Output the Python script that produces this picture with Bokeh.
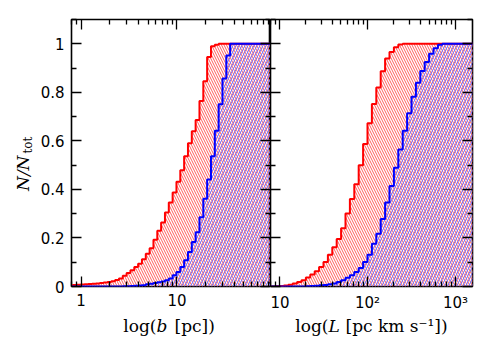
import math
from bokeh.plotting import figure
from bokeh.layouts import row, column
from bokeh.models import (LogAxis, LinearAxis, FixedTicker, CustomJSTickFormatter,
                          Range1d, Label)
from bokeh.embed import file_html
from bokeh.resources import INLINE

# ---------------- data ----------------
# left panel: bin left edges, log10(b / pc), width 0.04 dex
logb_edges = [-0.125, -0.085, -0.045, -0.005, 0.035, 0.075, 0.115, 0.155, 0.195, 0.235,
              0.275, 0.315, 0.355, 0.395, 0.435, 0.475, 0.515, 0.555, 0.595, 0.635,
              0.675, 0.715, 0.755, 0.795, 0.835, 0.875, 0.915, 0.955, 0.995, 1.035,
              1.075, 1.115, 1.155, 1.195, 1.235, 1.275, 1.315, 1.355, 1.395, 1.435,
              1.475, 1.515, 1.555, 1.595, 1.635, 1.675, 1.715, 1.755, 1.795, 1.835,
              1.875, 1.915, 1.955, 1.995]
b_red = [0.005, 0.006, 0.007, 0.008, 0.009, 0.010, 0.011, 0.012, 0.014, 0.016,
         0.019, 0.022, 0.027, 0.033, 0.044, 0.056, 0.067, 0.080, 0.094, 0.112,
         0.135, 0.158, 0.193, 0.230, 0.264, 0.305, 0.346, 0.387, 0.432, 0.479,
         0.537, 0.590, 0.640, 0.686, 0.764, 0.846, 0.945, 0.990, 0.996, 1.0,
         1.0, 1.0, 1.0, 1.0, 1.0, 1.0, 1.0, 1.0, 1.0, 1.0,
         1.0, 1.0, 1.0, 1.0]
b_blue = [0.0, 0.0, 0.0, 0.0, 0.0, 0.0, 0.0, 0.0, 0.0, 0.0,
          0.0, 0.0, 0.0, 0.0, 0.001, 0.001, 0.002, 0.003, 0.004, 0.005,
          0.009, 0.011, 0.014, 0.017, 0.021, 0.026, 0.033, 0.046, 0.060, 0.080,
          0.108, 0.142, 0.183, 0.223, 0.285, 0.362, 0.441, 0.537, 0.642, 0.751,
          0.857, 0.952, 1.0, 1.0, 1.0, 1.0, 1.0, 1.0, 1.0, 1.0,
          1.0, 1.0, 1.0, 1.0]

# right panel: bin left edges, log10(L / pc km s^-1), width 0.05 dex
logL_edges = [0.85, 0.90, 0.95, 1.00, 1.05, 1.10, 1.15, 1.20, 1.25, 1.30,
              1.35, 1.40, 1.45, 1.50, 1.55, 1.60, 1.65, 1.70, 1.75, 1.80,
              1.85, 1.90, 1.95, 2.00, 2.05, 2.10, 2.15, 2.20, 2.25, 2.30,
              2.35, 2.40, 2.45, 2.50, 2.55, 2.60, 2.65, 2.70, 2.75, 2.80,
              2.85, 2.90, 2.95, 3.00, 3.05, 3.10, 3.15, 3.20]
L_red = [0.0, 0.0, 0.001, 0.002, 0.004, 0.007, 0.012, 0.019, 0.026, 0.037,
         0.049, 0.063, 0.080, 0.101, 0.131, 0.162, 0.196, 0.240, 0.301, 0.360,
         0.421, 0.500, 0.587, 0.673, 0.752, 0.820, 0.887, 0.939, 0.966, 0.986,
         0.997, 1.0, 1.0, 1.0, 1.0, 1.0, 1.0, 1.0, 1.0, 1.0,
         1.0, 1.0, 1.0, 1.0, 1.0, 1.0, 1.0, 1.0]
L_blue = [0.0, 0.0, 0.0, 0.0, 0.0, 0.0, 0.0, 0.0, 0.0, 0.001,
          0.002, 0.003, 0.005, 0.006, 0.009, 0.012, 0.019, 0.026, 0.036, 0.046,
          0.060, 0.076, 0.101, 0.131, 0.176, 0.217, 0.278, 0.346, 0.414, 0.489,
          0.564, 0.642, 0.714, 0.782, 0.839, 0.888, 0.925, 0.959, 0.982, 0.996,
          1.0, 1.0, 1.0, 1.0, 1.0, 1.0, 1.0, 1.0]

y_major = [0, 0.2, 0.4, 0.6, 0.8, 1.0]
y_minor = [0.1, 0.3, 0.5, 0.7, 0.9, 1.1]
left_major = [1, 10, 100]
right_major = [10, 100, 1000]

# ---------------- styling helpers ----------------
RED = "#ff0000"
BLUE = "#0000ff"
TICK_FONT = "DejaVu Sans"
LABEL_FONT = "DejaVu Serif"

TOP, FRAME_H, BOTTOM = 19, 269, 26
PANEL_H = TOP + FRAME_H + BOTTOM          # 314
STRIP_H = 356 - PANEL_H                   # 42
YSTRIP_W = 37
P1_BL = 31
P1_W, P2_W = P1_BL + 202, 221


def minor_for(decades):
    out = []
    for d in decades:
        out += [m * 10 ** d for m in range(2, 10)]
    return out


num_fmt = CustomJSTickFormatter(code="""
    if (Math.abs(tick - Math.round(tick)) < 1e-9) { return tick.toFixed(0); }
    return tick.toFixed(1);
""")
log_fmt = CustomJSTickFormatter(code="""
    const e = Math.round(Math.log10(tick));
    if (e <= 1) { return String(Math.round(tick)); }
    const sup = {2: "\\u00b2", 3: "\\u00b3"};
    return "10" + sup[e];
""")
blank_fmt = CustomJSTickFormatter(code="return '';")


def style_axis(ax, labels):
    ax.axis_line_color = None
    ax.major_tick_in = 10
    ax.major_tick_out = 0
    ax.minor_tick_in = 5
    ax.minor_tick_out = 0
    ax.major_tick_line_color = "black"
    ax.minor_tick_line_color = "black"
    ax.major_tick_line_width = 1.3
    ax.minor_tick_line_width = 1.3
    ax.major_label_text_font = TICK_FONT
    ax.major_label_text_font_size = "15px"
    ax.major_label_text_color = "black"
    if labels:
        ax.major_label_standoff = 7
    else:
        ax.major_label_standoff = 0
        ax.formatter = blank_fmt


def make_panel(xr, xmajor, xminor, width, bl, br, show_ylabels):
    p = figure(width=width, height=PANEL_H, x_axis_type="log",
               x_range=Range1d(*xr), y_range=Range1d(0, 1.1),
               output_backend="svg", toolbar_location=None,
               min_border_left=bl, min_border_right=br,
               min_border_top=TOP, min_border_bottom=BOTTOM)
    p.xgrid.visible = False
    p.ygrid.visible = False
    p.outline_line_color = "black"
    p.outline_line_width = 1.6
    p.background_fill_color = "white"
    p.border_fill_color = "white"

    xt = FixedTicker(ticks=xmajor, minor_ticks=xminor)
    yt = FixedTicker(ticks=y_major, minor_ticks=y_minor)

    bx = p.below[0]
    bx.ticker = xt
    bx.formatter = log_fmt
    style_axis(bx, True)

    ly = p.left[0]
    ly.ticker = yt
    ly.formatter = num_fmt
    style_axis(ly, show_ylabels)

    ax = LogAxis(ticker=xt)
    style_axis(ax, False)
    p.add_layout(ax, "above")

    ry = LinearAxis(ticker=yt)
    style_axis(ry, False)
    p.add_layout(ry, "right")
    return p


def draw(p, edges, red, blue):
    xs = [10 ** e for e in edges]
    p.varea_step(x=xs, y1=0, y2=red, step_mode="after", fill_color=None,
                 hatch_pattern="\\", hatch_color="#ff5c5c", hatch_scale=5,
                 hatch_weight=1)
    p.varea_step(x=xs, y1=0, y2=blue, step_mode="after", fill_color=None,
                 hatch_pattern="/", hatch_color="#7474ff", hatch_scale=6,
                 hatch_weight=1)
    p.step(x=xs, y=red, mode="after", line_color=RED, line_width=2)
    p.step(x=xs, y=blue, mode="after", line_color=BLUE, line_width=2)


def text_strip(width, height):
    f = figure(width=width, height=height, x_range=Range1d(0, width),
               y_range=Range1d(0, height), output_backend="svg",
               toolbar_location=None, x_axis_location=None, y_axis_location=None,
               min_border=0)
    f.grid.visible = False
    f.outline_line_color = None
    f.background_fill_color = "white"
    f.border_fill_color = "white"
    return f


# ---------------- panels ----------------
p1 = make_panel((10 ** -0.1, 10 ** 1.976), left_major, [0.8, 0.9] + minor_for([0, 1]),
                P1_W, P1_BL, 0, True)
draw(p1, logb_edges, b_red, b_blue)

p2 = make_panel((10 ** 0.898, 10 ** 3.193), right_major, [8, 9] + minor_for([1, 2]),
                P2_W, 0, 19, False)
draw(p2, logL_edges, L_red, L_blue)

# ---------------- x labels strip ----------------
xs_fig = text_strip(P1_W + P2_W, STRIP_H)
lab = dict(x_units="data", y_units="data", text_font=LABEL_FONT,
           text_font_size="17px", text_color="black", text_baseline="middle")
ly_c = STRIP_H - 11
# left: log(b [pc])  centred under the left frame
xs_fig.add_layout(Label(x=119, y=ly_c, text="log(", text_align="right", **lab))
xs_fig.add_layout(Label(x=119, y=ly_c, text="b", text_align="left",
                        text_font_style="italic", **lab))
xs_fig.add_layout(Label(x=137, y=ly_c, text="[pc])", text_align="left", **lab))
# right: log(L [pc km s^-1])  centred under the right frame
xs_fig.add_layout(Label(x=291, y=ly_c, text="log(", text_align="right", **lab))
xs_fig.add_layout(Label(x=291, y=ly_c, text="L", text_align="left",
                        text_font_style="italic", **lab))
xs_fig.add_layout(Label(x=308, y=ly_c, text="[pc km s\u207b\u00b9])",
                        text_align="left", **lab))

# ---------------- y label strip ----------------
ys_fig = text_strip(YSTRIP_W, 356)
ys_fig.add_layout(Label(x=22, y=356 - 155, text="N/N", angle=math.pi / 2,
                        text_align="right", text_baseline="alphabetic",
                        text_font=LABEL_FONT, text_font_size="17px",
                        text_font_style="italic", text_color="black"))
ys_fig.add_layout(Label(x=27, y=356 - 153, text="tot", angle=math.pi / 2,
                        text_align="left", text_baseline="alphabetic",
                        text_font=LABEL_FONT, text_font_size="12px",
                        text_color="black"))

layout = row(ys_fig, column(row(p1, p2), xs_fig))
open("out.html", "w").write(file_html(layout, INLINE))
